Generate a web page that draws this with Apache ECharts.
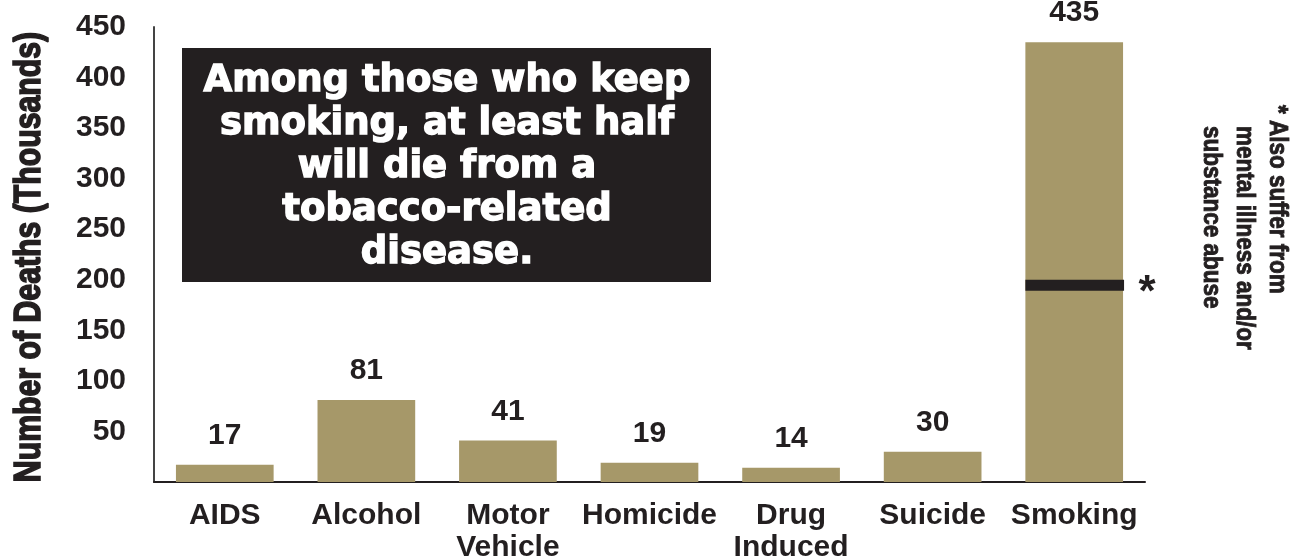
<!DOCTYPE html>
<html><head><meta charset="utf-8">
<script src="https://cdn.jsdelivr.net/npm/echarts@6/dist/echarts.min.js"></script>
<style>html,body{margin:0;padding:0;background:#fff}#c{width:1293px;height:559px}</style>
</head><body><div id="c"></div>
<script>
const categories = ['AIDS', 'Alcohol', 'Motor\nVehicle', 'Homicide', 'Drug\nInduced', 'Suicide', 'Smoking'];
const deaths = [17, 81, 41, 19, 14, 30, 435];
const yTicks = [50, 100, 150, 200, 250, 300, 350, 400, 450];
const mentalIllnessMark = [['Smoking', 195]];
const yAxisTitle = 'Number of Deaths (Thousands)';
const boxText = 'Among those who keep\nsmoking, at least half\nwill die from a\ntobacco-related\ndisease.';
const noteText = ['* Also suffer from', 'mental illness and/or', 'substance abuse'];

const INK = '#231f20';
const TAN = '#a69869';
const SANS = '"Liberation Sans", Arial, sans-serif';
const HEAVY = '"DejaVu Sans", "Liberation Sans", sans-serif';

const chart = echarts.init(document.getElementById('c'));
chart.setOption({
  animation: false,
  grid: { left: 154, right: 148, top: 27, bottom: 77, containLabel: false, outerBoundsMode: 'none' },
  xAxis: {
    type: 'category', data: categories,
    axisLine: { lineStyle: { color: INK, width: 2 } },
    axisTick: { show: false },
    axisLabel: { interval: 0, color: INK, fontSize: 30, fontWeight: 'bold', fontFamily: SANS, lineHeight: 32, margin: 18 }
  },
  yAxis: {
    type: 'value', min: 0, max: 450, interval: 50,
    axisLine: { show: true, lineStyle: { color: '#444', width: 2 } },
    axisTick: { show: false },
    splitLine: { show: false },
    axisLabel: {
      color: INK, fontSize: 30, fontWeight: 'bold', fontFamily: SANS, margin: 28,
      formatter: v => yTicks.includes(v) ? String(v) : ''
    }
  },
  series: [
    {
      type: 'bar', data: deaths, barWidth: '69%',
      itemStyle: { color: TAN },
      label: { show: true, position: 'top', distance: 14, color: INK, fontSize: 30, fontWeight: 'bold', fontFamily: SANS }
    },
    {
      type: 'custom', data: mentalIllnessMark, z: 10,
      renderItem: (params, api) => {
        const p = api.coord([api.value(0), api.value(1)]);
        const w = api.size([1, 0])[0] * 0.69;
        return {
          type: 'group', children: [
            { type: 'rect', shape: { x: p[0] - w / 2, y: p[1] - 5, width: w + 1, height: 11 }, style: { fill: INK } },
            { type: 'text', x: p[0] + w / 2 + 24, y: p[1] + 9, style: { text: '*', fill: INK, font: 'bold 44px ' + SANS, align: 'center', verticalAlign: 'middle' } }
          ]
        };
      }
    }
  ],
  graphic: [
    { type: 'text', x: 30, y: 257, rotation: Math.PI / 2, scaleX: 0.84, style: { text: yAxisTitle, fill: INK, stroke: INK, lineWidth: 1.6, font: 'bold 36px ' + SANS, align: 'center', verticalAlign: 'middle' } },
    { type: 'rect', left: 182, top: 48, shape: { width: 529, height: 234 }, style: { fill: INK } },
    { type: 'text', x: 447, y: 167, style: { text: boxText, fill: '#fff', stroke: '#fff', lineWidth: 1.4, font: 'bold 37px ' + HEAVY, lineHeight: 43, align: 'center', verticalAlign: 'middle' } },
    { type: 'text', x: 1277, y: 105, rotation: -Math.PI / 2, scaleX: 0.9, style: { text: noteText[0], fill: INK, stroke: INK, lineWidth: 0.9, font: 'bold 25px ' + SANS, align: 'left', verticalAlign: 'middle' } },
    { type: 'text', x: 1244, y: 126, rotation: -Math.PI / 2, scaleX: 0.9, style: { text: noteText[1], fill: INK, stroke: INK, lineWidth: 0.9, font: 'bold 25px ' + SANS, align: 'left', verticalAlign: 'middle' } },
    { type: 'text', x: 1211, y: 126, rotation: -Math.PI / 2, scaleX: 0.9, style: { text: noteText[2], fill: INK, stroke: INK, lineWidth: 0.9, font: 'bold 25px ' + SANS, align: 'left', verticalAlign: 'middle' } }
  ]
});
</script></body></html>
